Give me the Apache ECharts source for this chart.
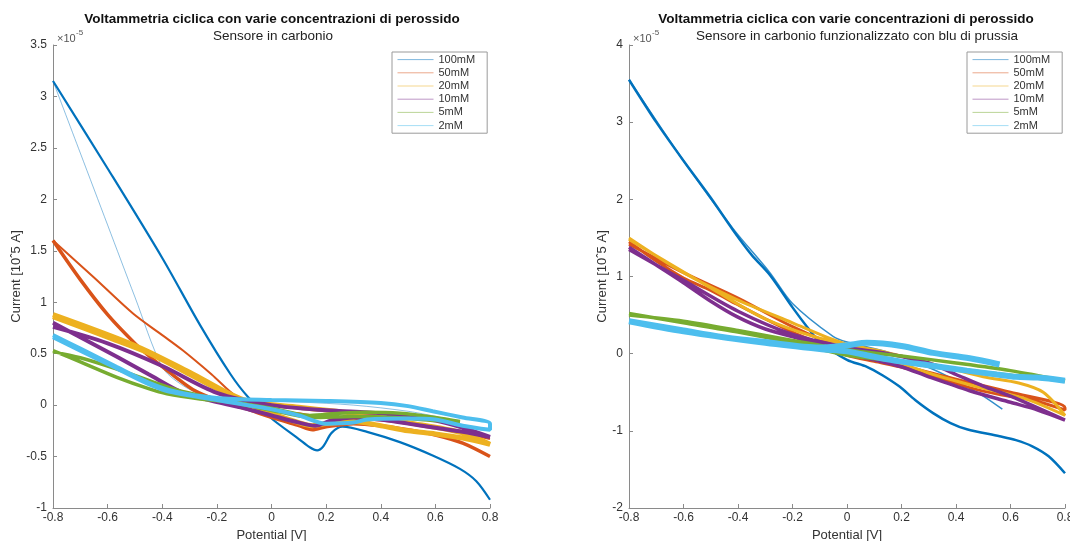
<!DOCTYPE html>
<html><head><meta charset="utf-8">
<script src="https://cdn.jsdelivr.net/npm/echarts/dist/echarts.min.js"></script>
<style>html,body{margin:0;padding:0;background:#fff}#c{width:1070px;height:541px}</style>
</head><body><div id="c"></div>
<script>
// ---------- DATA ----------
const concentrations = ['100mM','50mM','20mM','10mM','5mM','2mM'];
const xTicks = [-0.8,-0.6,-0.4,-0.2,0,0.2,0.4,0.6,0.8];

// Left plot: Sensore in carbonio  (x: Potential [V], y: Current [1e-5 A])
const L_100mM_a = [[-0.8,3.15],[-0.6,2.3],[-0.4,1.43],[-0.262,0.78],[-0.15,0.3],[-0.086,0.08],[0.0,-0.13],[0.1,-0.33],[0.14,-0.41],[0.167,-0.44],[0.19,-0.40],[0.22,-0.27],[0.26,-0.21],[0.35,-0.26],[0.47,-0.36],[0.59,-0.49],[0.69,-0.62],[0.75,-0.74],[0.8,-0.92]];
const L_100mM_b = [[0.62,-0.12],[0.5,-0.06],[0.3,0.0],[0.1,0.03],[-0.1,0.05],[-0.25,0.1],[-0.33,0.2],[-0.4,0.37],[-0.5,1.05],[-0.6,1.75],[-0.7,2.45],[-0.8,3.15]];
const L_50mM_a = [[-0.8,1.6],[-0.7,1.22],[-0.6,0.88],[-0.5,0.6],[-0.445,0.47],[-0.35,0.27],[-0.287,0.15],[-0.2,0.05],[-0.1,-0.03],[0.0,-0.12],[0.1,-0.2],[0.15,-0.24],[0.2,-0.21],[0.3,-0.18],[0.4,-0.2],[0.5,-0.24],[0.6,-0.29],[0.7,-0.37],[0.8,-0.5]];
const L_50mM_b = [[0.8,-0.33],[0.6,-0.22],[0.4,-0.15],[0.2,-0.12],[0.1,-0.08],[0.0,-0.05],[-0.126,0.08],[-0.22,0.3],[-0.324,0.53],[-0.4,0.68],[-0.507,0.89],[-0.65,1.24],[-0.8,1.6]];
const L_20mM = [[-0.8,0.86],[-0.6,0.66],[-0.445,0.5],[-0.3,0.3],[-0.2,0.16],[-0.126,0.06],[0.0,-0.08],[0.1,-0.17],[0.15,-0.2],[0.2,-0.18],[0.3,-0.16],[0.4,-0.2],[0.5,-0.25],[0.6,-0.28],[0.7,-0.32],[0.8,-0.38],[0.7,-0.27],[0.5,-0.17],[0.3,-0.08],[0.1,-0.02],[-0.1,0.05],[-0.3,0.32],[-0.5,0.58],[-0.8,0.88]];
const L_10mM = [[-0.8,0.8],[-0.7,0.66],[-0.566,0.47],[-0.45,0.3],[-0.324,0.12],[-0.2,0.03],[-0.1,-0.03],[0.0,-0.1],[0.1,-0.17],[0.16,-0.2],[0.22,-0.15],[0.3,-0.12],[0.4,-0.14],[0.5,-0.18],[0.6,-0.22],[0.7,-0.26],[0.8,-0.31],[0.7,-0.22],[0.6,-0.15],[0.4,-0.08],[0.2,-0.05],[0.0,0.0],[-0.2,0.12],[-0.4,0.38],[-0.6,0.6],[-0.8,0.76]];
const L_5mM = [[-0.8,0.53],[-0.7,0.42],[-0.566,0.27],[-0.45,0.16],[-0.383,0.11],[-0.262,0.06],[-0.15,0.03],[0.0,-0.03],[0.14,-0.1],[0.25,-0.08],[0.35,-0.07],[0.47,-0.08],[0.6,-0.12],[0.69,-0.16],[0.6,-0.15],[0.45,-0.12],[0.3,-0.11],[0.15,-0.12],[0.0,-0.05],[-0.2,0.06],[-0.35,0.15],[-0.566,0.35],[-0.7,0.46],[-0.8,0.52]];
const L_2mM = [[-0.8,0.68],[-0.7,0.55],[-0.566,0.37],[-0.45,0.22],[-0.35,0.13],[-0.2,0.07],[0.0,0.05],[0.2,0.04],[0.4,0.02],[0.5,-0.01],[0.59,-0.06],[0.7,-0.12],[0.8,-0.18],[0.8,-0.24],[0.7,-0.2],[0.6,-0.14],[0.5,-0.13],[0.35,-0.14],[0.3,-0.17],[0.2,-0.18],[0.1,-0.1],[0.0,-0.04],[-0.2,0.05],[-0.4,0.15],[-0.6,0.4],[-0.8,0.66]];

// Right plot: Sensore in carbonio funzionalizzato con blu di prussia
const R_100mM_a = [[-0.8,3.55],[-0.7,3.0],[-0.6,2.5],[-0.5,2.02],[-0.418,1.6],[-0.35,1.28],[-0.283,1.02],[-0.2,0.6],[-0.147,0.35],[-0.1,0.15],[0.0,-0.08],[0.073,-0.17],[0.13,-0.28],[0.194,-0.43],[0.25,-0.6],[0.316,-0.77],[0.38,-0.9],[0.44,-0.98],[0.56,-1.07],[0.62,-1.12],[0.68,-1.2],[0.74,-1.33],[0.8,-1.55]];
const R_100mM_b = [[0.57,-0.72],[0.5,-0.55],[0.4,-0.35],[0.3,-0.18],[0.15,0.02],[0.0,0.15],[-0.05,0.22],[-0.2,0.65],[-0.283,1.05],[-0.418,1.62],[-0.6,2.5],[-0.8,3.55]];
const R_50mM = [[-0.8,1.45],[-0.7,1.2],[-0.6,0.98],[-0.5,0.82],[-0.404,0.64],[-0.3,0.45],[-0.2,0.28],[-0.1,0.13],[0.0,-0.02],[0.1,-0.1],[0.194,-0.17],[0.3,-0.27],[0.44,-0.43],[0.56,-0.53],[0.68,-0.6],[0.8,-0.73],[0.8,-0.7],[0.6,-0.5],[0.4,-0.33],[0.2,-0.15],[0.0,0.05],[-0.2,0.35],[-0.4,0.72],[-0.6,1.05],[-0.8,1.42]];
const R_20mM = [[-0.8,1.5],[-0.6,1.05],[-0.404,0.7],[-0.2,0.4],[-0.05,0.18],[0.1,0.0],[0.3,-0.25],[0.5,-0.45],[0.65,-0.58],[0.8,-0.8],[0.72,-0.5],[0.63,-0.38],[0.5,-0.3],[0.3,-0.12],[0.1,0.05],[-0.1,0.2],[-0.3,0.45],[-0.5,0.85],[-0.8,1.48]];
const R_10mM = [[-0.8,1.38],[-0.7,1.15],[-0.6,0.92],[-0.5,0.68],[-0.404,0.48],[-0.3,0.32],[-0.16,0.18],[0.0,0.0],[0.1,-0.08],[0.2,-0.17],[0.3,-0.3],[0.45,-0.48],[0.6,-0.63],[0.7,-0.73],[0.8,-0.86],[0.6,-0.55],[0.5,-0.42],[0.4,-0.27],[0.3,-0.12],[0.15,0.0],[0.0,0.08],[-0.2,0.25],[-0.4,0.55],[-0.6,0.95],[-0.8,1.35]];
const R_5mM = [[-0.8,0.52],[-0.6,0.4],[-0.4,0.28],[-0.2,0.14],[0.0,-0.02],[0.19,-0.1],[0.316,-0.17],[0.5,-0.24],[0.65,-0.3],[0.8,-0.35],[0.6,-0.22],[0.4,-0.12],[0.2,-0.03],[0.0,0.05],[-0.2,0.17],[-0.4,0.3],[-0.6,0.42],[-0.8,0.5]];
const R_2mM = [[0.56,-0.14],[0.45,-0.06],[0.316,0.01],[0.2,0.1],[0.073,0.14],[0.0,0.11],[-0.1,0.08],[-0.3,0.15],[-0.466,0.22],[-0.6,0.3],[-0.8,0.42],[-0.6,0.29],[-0.3,0.14],[-0.1,0.06],[0.0,0.03],[0.1,-0.04],[0.194,-0.1],[0.3,-0.15],[0.44,-0.22],[0.55,-0.27],[0.62,-0.3],[0.7,-0.31],[0.8,-0.35]];

// ---------- STYLE ----------
const colors = {'100mM':'#0072BD','50mM':'#D95319','20mM':'#EDB120','10mM':'#7E2F8E','5mM':'#77AC30','2mM':'#4DBEEE'};
const FONT = 'Liberation Sans, Arial, Helvetica, sans-serif';

const leftPaths = [
  ['100mM', L_100mM_a, 2.2, 1], ['100mM', L_100mM_b, 1, 0.45],
  ['50mM', L_50mM_a, 3.5, 1], ['50mM', L_50mM_b, 2, 1],
  ['20mM', L_20mM, 5, 1], ['10mM', L_10mM, 4, 1],
  ['5mM', L_5mM, 3.5, 1], ['2mM', L_2mM, 4, 1]
];
const rightPaths = [
  ['100mM', R_100mM_a, 2.5, 1], ['100mM', R_100mM_b, 1.5, 0.8],
  ['50mM', R_50mM, 3, 1], ['20mM', R_20mM, 3, 1],
  ['10mM', R_10mM, 3.5, 1], ['5mM', R_5mM, 3.5, 1], ['2mM', R_2mM, 6, 1]
];

function mkSeries(paths, idx) {
  return paths.map(([name, data, w, op]) => ({
    type: 'line', name, data, xAxisIndex: idx, yAxisIndex: idx,
    symbol: 'none', showSymbol: false, smooth: 0.3, animation: false,
    lineStyle: { color: colors[name], width: w, opacity: op },
    itemStyle: { color: colors[name] },
    emphasis: { disabled: true }, silent: true
  }));
}

const axisCommon = {
  axisLine: { show: true, onZero: false, lineStyle: { color: '#8a8a8a', width: 1 } },
  axisTick: { show: true, inside: true, length: 4, lineStyle: { color: '#8a8a8a' } },
  splitLine: { show: false },
  axisLabel: { color: '#333', fontSize: 12, fontFamily: FONT },
  nameTextStyle: { color: '#333', fontSize: 13, fontFamily: FONT }
};

function xAx(grid) {
  return Object.assign({}, axisCommon, {
    type: 'value', gridIndex: grid, min: -0.8, max: 0.8, interval: 0.2,
    name: 'Potential [V]', nameLocation: 'middle', nameGap: 19,
    axisLabel: Object.assign({}, axisCommon.axisLabel, { margin: 4, formatter: v => String(parseFloat(v.toFixed(1))) })
  });
}
function yAx(grid, min, max, interval, gap) {
  return Object.assign({}, axisCommon, {
    type: 'value', gridIndex: grid, min, max, interval,
    name: 'Current [10ˆ5 A]', nameLocation: 'middle', nameGap: gap,
    axisLabel: Object.assign({}, axisCommon.axisLabel, { margin: 6, formatter: v => String(parseFloat(v.toFixed(1))) })
  });
}

const legendCommon = {
  orient: 'vertical', data: concentrations, selectedMode: false,
  itemWidth: 36, itemHeight: 10, itemGap: 0, padding: [1, 12, 1, 5],
  borderColor: '#9a9a9a', borderWidth: 1, backgroundColor: '#fff',
  textStyle: { fontSize: 11, color: '#333', fontFamily: FONT, lineHeight: 13.2 },
  itemStyle: { opacity: 0 },
  lineStyle: { width: 1, opacity: 0.5 }
};

const chart = echarts.init(document.getElementById('c'), null, { renderer: 'canvas' });
chart.setOption({
  backgroundColor: '#fff',
  animation: false,
  title: [
    { text: 'Voltammetria ciclica con varie concentrazioni di perossido', left: 272, top: 12, textAlign: 'center', padding: 0,
      textStyle: { fontSize: 13.5, fontWeight: 'bold', color: '#111', fontFamily: FONT } },
    { text: 'Sensore in carbonio', left: 273, top: 29, textAlign: 'center', padding: 0,
      textStyle: { fontSize: 13.5, fontWeight: 'normal', color: '#222', fontFamily: FONT } },
    { text: 'Voltammetria ciclica con varie concentrazioni di perossido', left: 846, top: 12, textAlign: 'center', padding: 0,
      textStyle: { fontSize: 13.5, fontWeight: 'bold', color: '#111', fontFamily: FONT } },
    { text: 'Sensore in carbonio funzionalizzato con blu di prussia', left: 857, top: 29, textAlign: 'center', padding: 0,
      textStyle: { fontSize: 13.5, fontWeight: 'normal', color: '#222', fontFamily: FONT } }
  ],
  grid: [
    { left: 53, right: 580, top: 45, bottom: 33, containLabel: false, outerBoundsMode: 'none' },
    { left: 629, right: 5, top: 45, bottom: 33, containLabel: false, outerBoundsMode: 'none' }
  ],
  xAxis: [xAx(0), xAx(1)],
  yAxis: [yAx(0, -1, 3.5, 0.5, 29), yAx(1, -2, 4, 1, 17)],
  legend: [
    Object.assign({}, legendCommon, { left: 392, top: 52 }),
    Object.assign({}, legendCommon, { left: 967, top: 52 })
  ],
  graphic: [
    { type: 'text', left: 57, top: 33, style: { text: '×10', fontSize: 11, fill: '#555', fontFamily: FONT } },
    { type: 'text', left: 76, top: 29, style: { text: '-5', fontSize: 8, fill: '#555', fontFamily: FONT } },
    { type: 'text', left: 633, top: 33, style: { text: '×10', fontSize: 11, fill: '#555', fontFamily: FONT } },
    { type: 'text', left: 652, top: 29, style: { text: '-5', fontSize: 8, fill: '#555', fontFamily: FONT } }
  ],
  series: mkSeries(leftPaths, 0).concat(mkSeries(rightPaths, 1))
});
</script>
</body></html>
